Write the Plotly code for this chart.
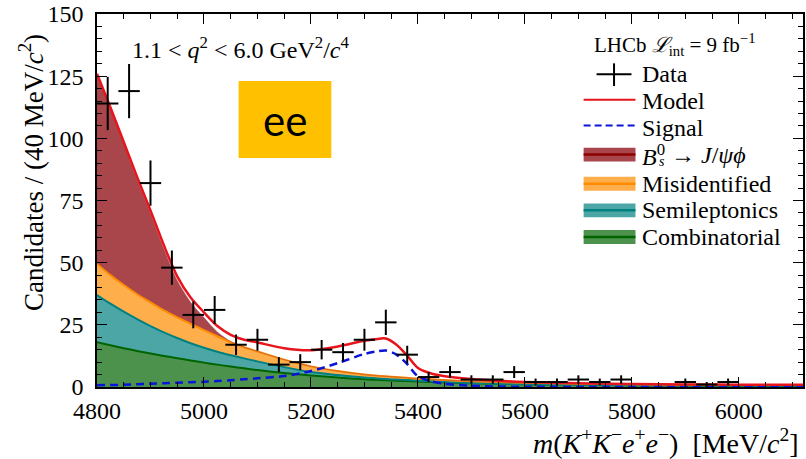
import plotly.graph_objects as go

# ---------------- data ----------------
bin_centers = [4820, 4860, 4900, 4940, 4980, 5020, 5060, 5100, 5140, 5180, 5220,
               5260, 5300, 5340, 5380, 5420, 5460, 5500, 5540, 5580, 5620, 5660,
               5700, 5740, 5780, 5820, 5860, 5900, 5940, 5980, 6020, 6060, 6100]
counts = [114, 119, 82, 48, 29, 31, 17, 19, 9, 10, 15,
          14, 19, 26, 13, 4, 6, 3, 3, 6, 2, 2,
          3, 2, 3, 0, 0, 2, 1, 2, 0, 0, 0]
count_err = [10.7, 10.9, 9.1, 6.9, 5.4, 5.6, 4.1, 4.4, 3.0, 3.2, 3.9,
             3.7, 4.4, 5.1, 3.6, 2.0, 2.4, 1.7, 1.7, 2.4, 1.4, 1.4,
             1.7, 1.4, 1.7, 0, 0, 1.4, 1.0, 1.4, 0, 0, 0]
bin_half_width = 20

mass = [4800, 4825, 4850, 4875, 4900, 4925, 4950, 4975, 5000, 5025, 5050, 5075, 5100,
        5150, 5200, 5250, 5300, 5320, 5340, 5360, 5380, 5400, 5425, 5450, 5500,
        5550, 5600, 5700, 5800, 5900, 6000, 6120]
combinatorial = [18.0, 16.8, 15.6, 14.5, 13.5, 12.5, 11.6, 10.7, 9.8, 9.0, 8.2, 7.5, 6.8,
                 5.6, 4.6, 3.8, 3.1, 2.9, 2.7, 2.5, 2.4, 2.2, 2.0, 1.8, 1.5,
                 1.3, 1.1, 0.9, 0.7, 0.6, 0.5, 0.45]
semileptonics = [19.0, 16.7, 14.7, 12.8, 11.0, 9.5, 8.1, 6.9, 6.0, 5.2, 4.6, 4.0, 3.5,
                 2.4, 1.4, 1.0, 0.7, 0.6, 0.5, 0.5, 0.4, 0.35, 0.3, 0.2, 0.1,
                 0.05, 0.05, 0.02, 0.02, 0.01, 0.01, 0.01]
misidentified = [12.5, 11.5, 10.7, 10.0, 9.5, 8.8, 8.3, 7.8, 7.1, 6.2, 5.2, 4.5, 4.0,
                 3.0, 2.3, 1.6, 1.2, 1.1, 1.1, 1.0, 0.9, 0.75, 0.8, 0.8, 0.7,
                 0.65, 0.55, 0.43, 0.38, 0.34, 0.34, 0.34]
bs_jpsiphi = [75.8, 66.7, 56.6, 46.1, 35.7, 24.7, 14.8, 8.7, 5.0, 1.7, 0.3, 0.0, 0.0,
              0.0, 0.0, 0.0, 0.0, 0.0, 0.0, 0.0, 0.0, 0.0, 0.0, 0.0, 0.0,
              0.0, 0.0, 0.0, 0.0, 0.0, 0.0, 0.0]
signal = [0.7, 0.8, 0.9, 1.1, 1.3, 1.5, 1.7, 1.9, 2.1, 2.4, 2.7, 3.1, 3.5,
          4.4, 6.4, 9.6, 13.3, 14.2, 14.7, 13.0, 9.2, 4.3, 2.3, 1.3, 0.5,
          0.2, 0.1, 0.03, 0.01, 0.0, 0.0, 0.0]
model = [126.0, 112.5, 98.5, 84.5, 71.0, 57.0, 44.5, 36.0, 30.0, 24.5, 21.0, 19.0, 17.9,
         15.6, 14.8, 16.3, 18.6, 19.2, 19.5, 17.0, 12.6, 7.6, 5.4, 4.3, 3.2,
         2.5, 2.0, 1.5, 1.2, 1.05, 0.95, 0.9]

x_range = [4800, 6120]
y_range = [0, 150]

legend_labels = ["Data", "Model", "Signal", None,
                 "Misidentified", "Semileptonics", "Combinatorial"]

# ---------------- styles ----------------
SERIF = "Liberation Serif, DejaVu Serif, serif"
W, H = 806, 459
L, R, T, B = 97, 805, 9, 387


def px(x):
    return (x - L) / (R - L)


def py(y):
    return (B - y) / (B - T)


FILL = {"comb": "#4c924c", "semi": "#4ca6a6", "misid": "#ffae4c", "bs": "#a8464b"}
LINE = {"comb": "#006400", "semi": "#008080", "misid": "#ff8c00", "bs": "#8b0000"}

fig = go.Figure()

stack = [("comb", combinatorial, 2), ("semi", semileptonics, 2),
         ("misid", misidentified, 2), ("bs", bs_jpsiphi, 0)]
for key, vals, lw in stack:
    fig.add_trace(go.Scatter(
        x=mass, y=vals, mode="lines", stackgroup="bkg",
        line=dict(color=LINE[key] if lw else FILL[key], width=lw if lw else 0.5,
                  shape="spline", smoothing=0.8),
        fillcolor=FILL[key], showlegend=False, hoverinfo="skip"))

fig.add_trace(go.Scatter(
    x=mass, y=signal, mode="lines",
    line=dict(color="#0a14d8", width=2.5, dash="8px,5px", shape="spline", smoothing=0.8),
    showlegend=False))

fig.add_trace(go.Scatter(
    x=mass, y=model, mode="lines",
    line=dict(color="#e8141c", width=2.5, shape="spline", smoothing=0.8),
    showlegend=False))

dx = [c for c, n in zip(bin_centers, counts) if n > 0]
dy = [n for n in counts if n > 0]
de = [e for e, n in zip(count_err, counts) if n > 0]
fig.add_trace(go.Scatter(
    x=dx, y=dy, mode="markers",
    marker=dict(size=1, color="black"),
    error_y=dict(type="data", array=de, width=0, thickness=2, color="black"),
    error_x=dict(type="constant", value=bin_half_width, width=0, thickness=2, color="black"),
    showlegend=False))

axis_common = dict(
    showline=True, linecolor="black", linewidth=1.5, mirror="allticks",
    ticks="inside", ticklen=10, tickwidth=1.2, tickcolor="black",
    showgrid=False, zeroline=False, ticklabeloverflow="allow",
    tickfont=dict(family=SERIF, size=24, color="black"),
)
fig.update_xaxes(range=x_range, tick0=4800, dtick=200,
                 minor=dict(ticks="inside", ticklen=5, dtick=50, tick0=4800,
                            tickcolor="black", tickwidth=1, showgrid=False),
                 ticklabelstandoff=1, **axis_common)
fig.update_yaxes(range=y_range, tick0=0, dtick=25,
                 minor=dict(ticks="inside", ticklen=5, dtick=5, tick0=0,
                            tickcolor="black", tickwidth=1, showgrid=False),
                 ticklabelstandoff=7, **axis_common)

ann = []
shapes = []


def text(x, y, s, size, xanchor="left", family=SERIF, **kw):
    ann.append(dict(x=px(x), y=py(y), xref="paper", yref="paper", xanchor=xanchor,
                    yanchor="middle", text=s, showarrow=False,
                    font=dict(family=family, size=size, color="black"), **kw))


# axis titles
text(803, 442, "<i>m</i>(<i>K</i><sup>+</sup><i>K</i><sup>−</sup><i>e</i><sup>+</sup><i>e</i><sup>−</sup>)  [MeV/<i>c</i><sup>2</sup>]",
     28, xanchor="right")
text(31, 170, "Candidates / (40 MeV/<i>c</i><sup>2</sup>)", 27, xanchor="center", textangle=-90)
# q2 label
text(130, 43, "1.1 < <i>q</i><sup>2</sup> < 6.0 GeV<sup>2</sup>/<i>c</i><sup>4</sup>", 24)
# LHCb label
text(593, 40, "LHCb <i>ℒ</i><sub>int</sub> = 9 fb<sup>−1</sup>", 21)

# ee box
shapes.append(dict(type="rect", xref="paper", yref="paper", x0=px(239), x1=px(332),
                   y0=py(155), y1=py(77), fillcolor="#ffc000", line=dict(width=0), layer="above"))
text(285.5, 116, "ee", 42, xanchor="center", family="Lato, sans-serif")

# manual legend
rows = [70, 97.5, 125, 151.5, 181, 208, 235]
for lab, yy in zip(legend_labels, rows):
    if lab is not None:
        text(642, yy, lab, 24)
# B0_s -> J/psi phi (superscript in-line, subscript stacked below it)
text(642, 152, "<i>B</i><sup>0</sup>", 24)
text(659, 158.5, "<i>s</i>", 14)
text(671, 151.5, "→ <i>J</i>/<i>ψϕ</i>", 24)

# data symbol
shapes.append(dict(type="line", xref="paper", yref="paper", x0=px(598), x1=px(633), y0=py(70), y1=py(70),
                   line=dict(color="black", width=2)))
shapes.append(dict(type="line", xref="paper", yref="paper", x0=px(615.5), x1=px(615.5), y0=py(59), y1=py(82),
                   line=dict(color="black", width=2)))
# model
shapes.append(dict(type="line", xref="paper", yref="paper", x0=px(585), x1=px(637), y0=py(96), y1=py(96),
                   line=dict(color="#e8141c", width=2)))
# signal
shapes.append(dict(type="line", xref="paper", yref="paper", x0=px(585), x1=px(637), y0=py(122), y1=py(122),
                   line=dict(color="#0a14d8", width=2, dash="7px,4px")))
for key, yy in zip(["bs", "misid", "semi", "comb"], rows[3:]):
    shapes.append(dict(type="rect", xref="paper", yref="paper", x0=px(585), x1=px(637),
                       y0=py(yy + 7), y1=py(yy - 7), fillcolor=FILL[key], line=dict(width=0)))
    shapes.append(dict(type="line", xref="paper", yref="paper", x0=px(585), x1=px(637),
                       y0=py(yy), y1=py(yy), line=dict(color=LINE[key], width=2.5)))

fig.update_layout(
    width=W, height=H,
    margin=dict(l=L, r=W - R, t=T, b=H - B),
    paper_bgcolor="white", plot_bgcolor="white",
    showlegend=False,
    annotations=ann, shapes=shapes,
)

fig.write_html("out.html")
